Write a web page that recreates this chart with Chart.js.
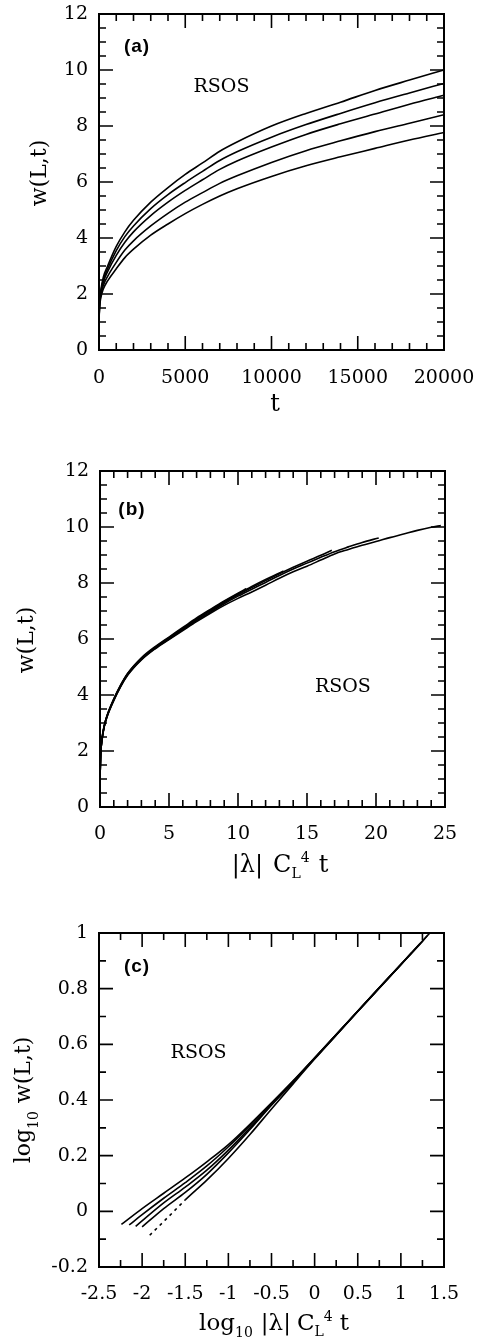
<!DOCTYPE html>
<html lang="en">
<head>
<meta charset="UTF-8">
<title>RSOS interface width</title>
<script src="https://cdn.jsdelivr.net/npm/chart.js"></script>
<style>
  body { margin: 0; background: #fff; }
  canvas { position: absolute; left: 0; }
</style>
</head>
<body>
<canvas id="panelA" width="479" height="440" style="top:0"></canvas>
<canvas id="panelB" width="479" height="445" style="top:440px"></canvas>
<canvas id="panelC" width="479" height="458" style="top:885px"></canvas>
<script>
// ---- (a) w(L,t) against t, five runs ----
const tA = [0, 25, 100, 250, 500, 1000, 1500, 2000, 3000, 4000, 5000, 6000, 7000, 8000, 10000, 12000, 14000, 16000, 18000, 20000];
const wA1 = [1.0, 1.6, 2.1, 2.6, 3.0, 3.7, 4.22, 4.63, 5.28, 5.8, 6.27, 6.68, 7.1, 7.43, 8.0, 8.45, 8.85, 9.27, 9.64, 10.0];
const wA2 = [1.0, 1.58, 2.05, 2.5, 2.9, 3.55, 4.05, 4.43, 5.05, 5.55, 5.98, 6.38, 6.77, 7.08, 7.6, 8.05, 8.45, 8.83, 9.18, 9.52];
const wA3 = [1.0, 1.55, 2.0, 2.42, 2.8, 3.38, 3.85, 4.22, 4.8, 5.28, 5.7, 6.08, 6.45, 6.75, 7.25, 7.7, 8.08, 8.43, 8.78, 9.1];
const wA4 = [1.0, 1.5, 1.93, 2.3, 2.63, 3.13, 3.57, 3.9, 4.43, 4.88, 5.28, 5.62, 5.95, 6.22, 6.7, 7.12, 7.47, 7.8, 8.1, 8.4];
const wA5 = [1.0, 1.45, 1.85, 2.18, 2.47, 2.9, 3.3, 3.6, 4.1, 4.5, 4.87, 5.2, 5.5, 5.76, 6.2, 6.58, 6.9, 7.2, 7.5, 7.77];
const ticksAX = [0, 5000, 10000, 15000, 20000];
const ticksAY = [0, 2, 4, 6, 8, 10, 12];

// ---- (b) w(L,t) against |lambda| C_L^4 t ----
const xB1 = [0, 0.05, 0.15, 0.3, 0.5, 1, 1.5, 2, 3, 4, 5, 6, 7, 8, 9, 10, 11, 12, 13, 14, 15, 16, 17, 18, 19, 20, 21, 22, 23, 24, 24.7];
const wB1 = [1.0, 1.9, 2.4, 2.85, 3.2, 3.8, 4.3, 4.7, 5.25, 5.65, 5.98, 6.3, 6.62, 6.92, 7.2, 7.45, 7.68, 7.92, 8.17, 8.4, 8.6, 8.82, 9.04, 9.2, 9.35, 9.48, 9.62, 9.75, 9.88, 9.99, 10.05];
const xB2 = [0, 0.05, 0.15, 0.3, 0.5, 1, 1.5, 2, 3, 4, 5, 6, 7, 8, 9, 10, 11, 12, 13, 14, 15, 16, 17, 18, 19, 20.2];
const wB2 = [1.0, 1.88, 2.42, 2.86, 3.22, 3.82, 4.32, 4.72, 5.27, 5.67, 6.0, 6.33, 6.66, 6.96, 7.26, 7.53, 7.78, 8.02, 8.27, 8.5, 8.71, 8.92, 9.12, 9.29, 9.45, 9.61];
const xB3 = [0, 0.05, 0.15, 0.3, 0.5, 1, 1.5, 2, 3, 4, 5, 6, 7, 8, 9, 10, 11, 12, 13, 14, 15, 16, 16.8];
const wB3 = [1.0, 1.87, 2.43, 2.87, 3.23, 3.84, 4.33, 4.74, 5.29, 5.69, 6.02, 6.35, 6.69, 7.0, 7.3, 7.58, 7.84, 8.09, 8.33, 8.56, 8.78, 8.99, 9.17];
const xB4 = [0, 0.05, 0.15, 0.3, 0.5, 1, 1.5, 2, 3, 4, 5, 6, 7, 8, 9, 10, 11, 12, 13, 13.3];
const wB4 = [1.0, 1.86, 2.44, 2.88, 3.24, 3.85, 4.35, 4.76, 5.31, 5.71, 6.05, 6.38, 6.72, 7.03, 7.33, 7.61, 7.88, 8.13, 8.36, 8.43];
const xB5 = [0, 0.05, 0.15, 0.3, 0.5, 1, 1.5, 2, 3, 4, 5, 6, 7, 8, 9, 10, 10.6];
const wB5 = [1.0, 1.85, 2.45, 2.89, 3.25, 3.86, 4.36, 4.77, 5.33, 5.73, 6.07, 6.41, 6.75, 7.06, 7.36, 7.64, 7.8];
const ticksBX = [0, 5, 10, 15, 20, 25];
const ticksBY = [0, 2, 4, 6, 8, 10, 12];

// ---- (c) log-log version of (b) ----
const xC1 = [-1.912, -1.8, -1.7, -1.6, -1.5, -1.25, -1.0, -0.75, -0.5, -0.25, 0, 0.25, 0.5, 0.75, 1.0, 1.25, 1.335];
const yC1 = [-0.086, -0.052, -0.021, 0.01, 0.041, 0.112, 0.19, 0.276, 0.368, 0.458, 0.547, 0.633, 0.718, 0.802, 0.886, 0.97, 1.0];
const xC2 = [-2.0, -1.75, -1.5, -1.25, -1.0, -0.75, -0.5, -0.25, 0, 0.25, 0.5, 0.75, 1.0, 1.25, 1.305];
const yC2 = [-0.056, 0.01, 0.068, 0.133, 0.21, 0.294, 0.381, 0.464, 0.549, 0.634, 0.719, 0.803, 0.887, 0.971, 0.99];
const xC3 = [-2.075, -1.75, -1.5, -1.25, -1.0, -0.75, -0.5, -0.25, 0, 0.25, 0.5, 0.75, 1.0, 1.225];
const yC3 = [-0.054, 0.03, 0.087, 0.148, 0.22, 0.3, 0.384, 0.465, 0.55, 0.634, 0.719, 0.803, 0.887, 0.963];
const xC4 = [-2.15, -2.0, -1.75, -1.5, -1.25, -1.0, -0.75, -0.5, -0.25, 0, 0.25, 0.5, 0.75, 1.0, 1.124];
const yC4 = [-0.049, -0.012, 0.047, 0.103, 0.163, 0.232, 0.308, 0.387, 0.467, 0.551, 0.635, 0.719, 0.803, 0.887, 0.929];
const xC5 = [-2.24, -2.0, -1.75, -1.5, -1.25, -1.0, -0.75, -0.5, -0.25, 0, 0.25, 0.5, 0.75, 1.025];
const yC5 = [-0.047, 0.01, 0.065, 0.12, 0.178, 0.24, 0.313, 0.39, 0.469, 0.552, 0.635, 0.72, 0.804, 0.895];
const ticksCX = [-2.5, -2, -1.5, -1, -0.5, 0, 0.5, 1, 1.5];
const ticksCY = [-0.2, 0, 0.2, 0.4, 0.6, 0.8, 1];

const SERIF = '"DejaVu Serif", serif';

// frame, inward ticks, panel letters, notes and axis titles
const decor = {
  id: 'decor',
  afterDatasetsDraw(chart, args, o) {
    const {ctx, chartArea: a, scales: {x, y}} = chart;
    ctx.save();
    ctx.strokeStyle = '#000';
    ctx.lineWidth = 1.6;
    ctx.beginPath();
    const marks = (sc, step, majors, horiz) => {
      const n = Math.round((sc.max - sc.min) / step);
      for (let i = 0; i <= n; i++) {
        const v = sc.min + i * step;
        const major = majors.some(m => Math.abs(m - v) < step / 10);
        const len = major ? 14 : 7;
        const p = sc.getPixelForValue(v);
        if (horiz) {
          ctx.moveTo(p, a.bottom); ctx.lineTo(p, a.bottom - len);
          ctx.moveTo(p, a.top); ctx.lineTo(p, a.top + len);
        } else {
          ctx.moveTo(a.left, p); ctx.lineTo(a.left + len, p);
          ctx.moveTo(a.right, p); ctx.lineTo(a.right - len, p);
        }
      }
    };
    marks(x, o.xMinor, o.xMajor, true);
    marks(y, o.yMinor, o.yMajor, false);
    ctx.stroke();
    ctx.lineWidth = 2;
    ctx.strokeRect(a.left, a.top, a.right - a.left, a.bottom - a.top);

    ctx.fillStyle = '#000';
    ctx.textAlign = 'center';
    ctx.textBaseline = 'middle';
    ctx.font = 'bold 19px "Liberation Sans", Arial, sans-serif';
    ctx.letterSpacing = '1px';
    ctx.fillText(o.letter, a.left + o.letterAt[0], a.top + o.letterAt[1]);
    ctx.letterSpacing = '0px';
    ctx.font = '19px ' + SERIF;
    ctx.fillText(o.note, x.getPixelForValue(o.noteAt[0]), y.getPixelForValue(o.noteAt[1]));

    drawRich(ctx, o.xTitle.segs, o.xTitle.cx, o.xTitle.base, 0);
    drawRich(ctx, o.yTitle.segs, o.yTitle.base, o.yTitle.cy, -Math.PI / 2);
    ctx.restore();
  }
};

// text with sub/superscript pieces, centred on cx, sitting on a baseline
function drawRich(ctx, segs, cx, cy, rot) {
  ctx.save();
  ctx.translate(cx, cy);
  ctx.rotate(rot);
  ctx.textAlign = 'left';
  ctx.textBaseline = 'alphabetic';
  let total = 0;
  const w = segs.map(s => {
    ctx.font = s.size + 'px ' + SERIF;
    const m = ctx.measureText(s.t).width;
    total += (s.gap || 0) + m;
    return m;
  });
  let px = -total / 2;
  segs.forEach((s, i) => {
    px += s.gap || 0;
    ctx.font = s.size + 'px ' + SERIF;
    ctx.fillText(s.t, px, s.dy || 0);
    px += w[i];
  });
  ctx.restore();
}

function panel(id, p) {
  const tickFont = {family: SERIF, size: 19};
  return new Chart(document.getElementById(id), {
    type: 'scatter',
    data: {
      datasets: p.series.map(s => ({
        data: s.x.map((v, i) => ({x: v, y: s.y[i]})),
        showLine: true,
        borderColor: '#000',
        borderWidth: 1.6,
        pointRadius: 0,
        cubicInterpolationMode: 'monotone',
        segment: s.dashTo === undefined ? {} : {
          borderDash: c => c.p1.parsed.x <= s.dashTo ? [3, 4] : undefined
        }
      }))
    },
    options: {
      responsive: false,
      animation: false,
      layout: {padding: {top: p.top, right: p.right, left: 0, bottom: 0}},
      plugins: {legend: {display: false}, tooltip: {enabled: false}, decor: p.decor},
      scales: {
        x: {
          type: 'linear', min: p.xMin, max: p.xMax,
          grid: {display: false, drawTicks: false}, border: {display: false},
          afterBuildTicks: sc => { sc.ticks = p.xTicks.map(v => ({value: v})); },
          afterFit: sc => { sc.height = p.xAxisH; sc.paddingLeft = 0; sc.paddingRight = 0; },
          ticks: {font: tickFont, color: '#000', padding: p.xPad, maxRotation: 0, autoSkip: false, callback: v => String(v)}
        },
        y: {
          type: 'linear', min: p.yMin, max: p.yMax,
          grid: {display: false, drawTicks: false}, border: {display: false},
          afterBuildTicks: sc => { sc.ticks = p.yTicks.map(v => ({value: v})); },
          afterFit: sc => { sc.width = p.yAxisW; sc.paddingTop = 0; sc.paddingBottom = 0; },
          ticks: {font: tickFont, color: '#000', padding: 11, autoSkip: false, callback: v => String(v)}
        }
      }
    },
    plugins: [decor]
  });
}

panel('panelA', {
  series: [{x: tA, y: wA1}, {x: tA, y: wA2}, {x: tA, y: wA3}, {x: tA, y: wA4}, {x: tA, y: wA5}],
  xMin: 0, xMax: 20000, yMin: 0, yMax: 12, xTicks: ticksAX, yTicks: ticksAY,
  top: 14, right: 35, yAxisW: 99, xAxisH: 90, xPad: 17,
  decor: {
    xMinor: 1000, xMajor: ticksAX, yMinor: 0.5, yMajor: ticksAY,
    letter: '(a)', letterAt: [38, 33], note: 'RSOS', noteAt: [7100, 9.4],
    xTitle: {cx: 275, base: 411, segs: [{t: 't', size: 24}]},
    yTitle: {base: 46, cy: 173, segs: [{t: 'w(L,t)', size: 22}]}
  }
});

panel('panelB', {
  series: [{x: xB1, y: wB1}, {x: xB2, y: wB2}, {x: xB3, y: wB3}, {x: xB4, y: wB4}, {x: xB5, y: wB5}],
  xMin: 0, xMax: 25, yMin: 0, yMax: 12, xTicks: ticksBX, yTicks: ticksBY,
  top: 31, right: 34, yAxisW: 100, xAxisH: 78, xPad: 16,
  decor: {
    xMinor: 1, xMajor: ticksBX, yMinor: 0.5, yMajor: ticksBY,
    letter: '(b)', letterAt: [32, 39], note: 'RSOS', noteAt: [17.6, 4.3],
    xTitle: {cx: 280, base: 432, segs: [
      {t: '|λ|', size: 24}, {t: 'C', size: 24, gap: 10},
      {t: 'L', size: 14, dy: 6}, {t: '4', size: 14, dy: -10}, {t: 't', size: 24, gap: 9}
    ]},
    yTitle: {base: 33, cy: 200, segs: [{t: 'w(L,t)', size: 22}]}
  }
});

panel('panelC', {
  series: [{x: xC1, y: yC1, dashTo: -1.5}, {x: xC2, y: yC2}, {x: xC3, y: yC3}, {x: xC4, y: yC4}, {x: xC5, y: yC5}],
  xMin: -2.5, xMax: 1.5, yMin: -0.2, yMax: 1, xTicks: ticksCX, yTicks: ticksCY,
  top: 48, right: 35, yAxisW: 99, xAxisH: 76, xPad: 16,
  decor: {
    xMinor: 0.25, xMajor: ticksCX, yMinor: 0.1, yMajor: ticksCY,
    letter: '(c)', letterAt: [38, 34], note: 'RSOS', noteAt: [-1.346, 0.567],
    xTitle: {cx: 274, base: 445, segs: [
      {t: 'log', size: 23}, {t: '10', size: 14, dy: 7},
      {t: '|λ|', size: 23, gap: 8}, {t: 'C', size: 23, gap: 6},
      {t: 'L', size: 14, dy: 6}, {t: '4', size: 14, dy: -9}, {t: 't', size: 23, gap: 7}
    ]},
    yTitle: {base: 30, cy: 215, segs: [
      {t: 'log', size: 22}, {t: '10', size: 14, dy: 8}, {t: 'w(L,t)', size: 22, gap: 8}
    ]}
  }
});
</script>
</body>
</html>
